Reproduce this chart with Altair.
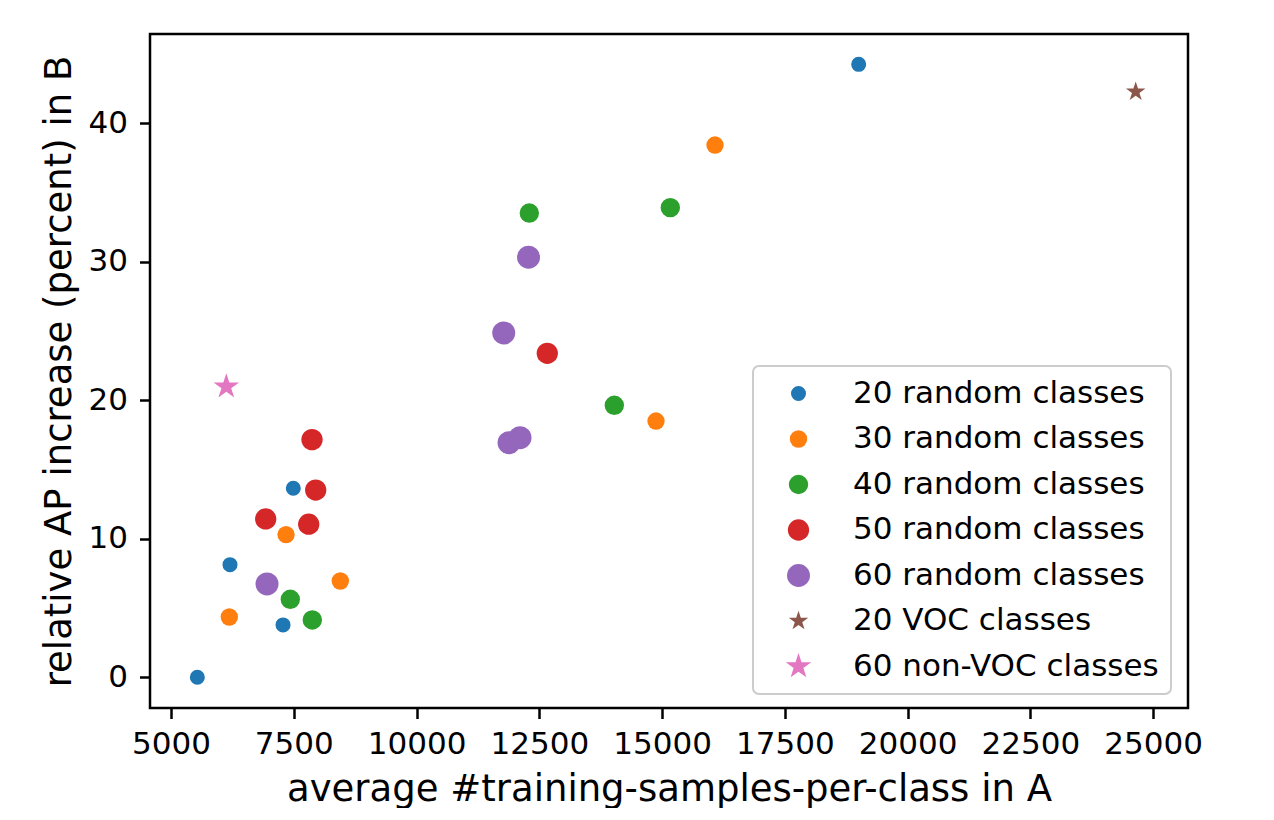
import altair as alt
import pandas as pd

series_names = [
    "20 random classes", "30 random classes", "40 random classes",
    "50 random classes", "60 random classes", "20 VOC classes", "60 non-VOC classes",
]
colors = ["#1f77b4", "#ff7f0e", "#2ca02c", "#d62728", "#9467bd", "#8c564b", "#e377c2"]

x_20 = [5536, 6201, 7490, 7281, 19003]
y_20 = [0.0, 8.13, 13.65, 3.78, 44.26]
x_30 = [6187, 7342, 8447, 14876, 16077]
y_30 = [4.35, 10.30, 6.95, 18.5, 38.43]
x_40 = [7429, 7877, 12296, 15167, 14027]
y_40 = [5.63, 4.14, 33.52, 33.91, 19.64]
x_50 = [7871, 7946, 6928, 7804, 12662]
y_50 = [17.16, 13.52, 11.43, 11.05, 23.39]
x_60 = [6955, 12280, 11775, 11883, 12107]
y_60 = [6.74, 30.33, 24.86, 16.94, 17.30]
x_voc = [24644]
y_voc = [42.28]
x_nonvoc = [6126]
y_nonvoc = [20.98]

x_ticks = [5000, 7500, 10000, 12500, 15000, 17500, 20000, 22500, 25000]
y_ticks = [0, 10, 20, 30, 40]

xs = [x_20, x_30, x_40, x_50, x_60, x_voc, x_nonvoc]
ys = [y_20, y_30, y_40, y_50, y_60, y_voc, y_nonvoc]
rows = []
for name, xv, yv in zip(series_names, xs, ys):
    for a, b in zip(xv, yv):
        rows.append({"x": a, "y": b, "series": name})
df = pd.DataFrame(rows)

STAR = ("M0,-1L0.2245,-0.309L0.9511,-0.309L0.3633,0.118L0.5878,0.809"
        "L0,0.382L-0.5878,0.809L-0.3633,0.118L-0.9511,-0.309L-0.2245,-0.309Z")
shapes = ["circle"] * 5 + [STAR, STAR]
sizes = [226, 302, 377, 453, 528, 420, 720]

FONT = "DejaVu Sans"

legend = alt.Legend(
    title=None, orient="none", legendX=603, legendY=332,
    padding=12, symbolOffset=18, labelOffset=39, rowPadding=13.5,
    labelFontSize=31, labelFont=FONT, labelColor="black", labelLimit=600,
    strokeColor="#cccccc", cornerRadius=6, fillColor="white",
    symbolStrokeWidth=0, symbolOpacity=1,
)

chart = alt.Chart(df).mark_point(filled=True, opacity=1).encode(
    x=alt.X("x:Q",
            scale=alt.Scale(domain=[4572, 25709], nice=False, zero=False),
            axis=alt.Axis(values=x_ticks, format="d",
                          title="average #training-samples-per-class in A",
                          titleY=92, titleBaseline="alphabetic")),
    y=alt.Y("y:Q",
            scale=alt.Scale(domain=[-2.22, 46.45], nice=False, zero=False),
            axis=alt.Axis(values=y_ticks, format="d",
                          title="relative AP increase (percent) in B",
                          titleX=-80, titleBaseline="alphabetic")),
    color=alt.Color("series:N", scale=alt.Scale(domain=series_names, range=colors), legend=legend),
    shape=alt.Shape("series:N", scale=alt.Scale(domain=series_names, range=shapes), legend=legend),
    size=alt.Size("series:N", scale=alt.Scale(type="ordinal", domain=series_names, range=sizes), legend=legend),
).properties(
    width=1038, height=674,
    autosize=alt.AutoSizeParams(type="none"),
    padding={"left": 142, "top": 26, "right": 70, "bottom": 100},
).configure_view(
    stroke="black", strokeWidth=2.5,
).configure_legend(
    strokeWidth=2,
).configure_axis(
    domain=False, grid=False,
    tickColor="black", tickWidth=2.5, tickSize=10.5,
    labelFont=FONT, labelFontSize=31, labelColor="black", labelPadding=11,
    titleFont=FONT, titleFontSize=37, titleColor="black", titleFontWeight="normal",
).configure_axisY(
    labelPadding=12,
)

chart.save("out.html", embed_options={"renderer": "svg", "actions": False})
